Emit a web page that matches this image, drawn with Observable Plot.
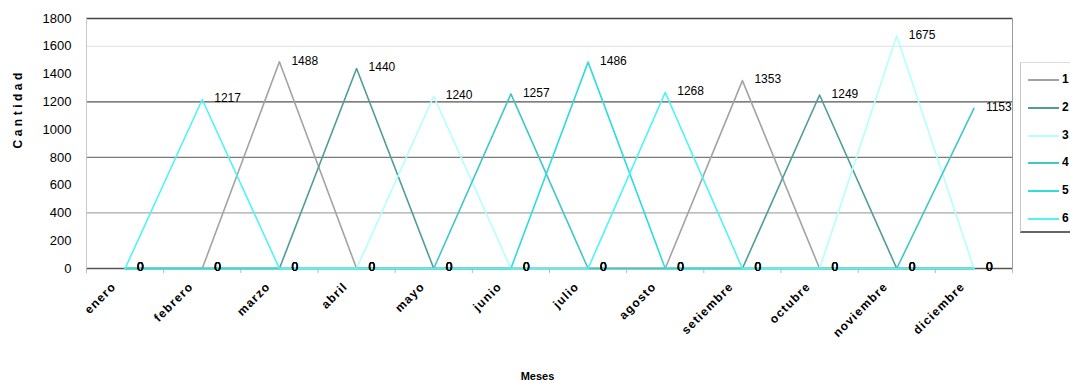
<!DOCTYPE html>
<html><head><meta charset="utf-8">
<script src="https://cdn.jsdelivr.net/npm/d3@7"></script>
<script src="https://cdn.jsdelivr.net/npm/@observablehq/plot@0.6"></script>
<style>
html,body{margin:0;padding:0;background:#fff;overflow:hidden;}
#wrap{position:relative;width:1070px;height:381px;font-family:"Liberation Sans",Arial,sans-serif;}
#wrap svg{display:block;}
#legend{position:absolute;left:1020px;top:62px;width:70px;height:168px;border-left:1px solid #c8c8c8;border-top:1px solid #dcdcdc;border-bottom:2px solid #666;background:#fff;}
.lg{position:absolute;left:0;height:14px;width:70px;}
.lg .sw{position:absolute;left:7px;top:6px;width:31px;height:0;border-top:2px solid #000;}
.lg .tx{position:absolute;left:41px;top:-1px;font:bold 12px "Liberation Sans",Arial,sans-serif;color:#000;}
</style></head><body><div id="wrap"></div><script>
const months = ["enero","febrero","marzo","abril","mayo","junio","julio","agosto","setiembre","octubre","noviembre","diciembre"];
const seriesNames = ["1","2","3","4","5","6"];
const s1 = [0,0,1488,0,0,0,0,0,1353,0,0,0];
const s2 = [0,0,0,1440,0,0,0,0,0,1249,0,0];
const s3 = [0,0,0,0,1240,0,0,0,0,0,1675,0];
const s4 = [0,0,0,0,0,1257,0,0,0,0,0,1153];
const s5 = [0,0,0,0,0,0,1486,0,0,0,0,0];
const s6 = [0,1217,0,0,0,0,0,1268,0,0,0,0];
const seriesValues = [s1,s2,s3,s4,s5,s6];
const yTicks = [0,200,400,600,800,1000,1200,1400,1600,1800];
const gridLevels = [400,800,1200,1600];

const colors = ["#a3a3a3","#509c9c","#b4ffff","#40c8c8","#30dcdc","#50f4f4"];
const gridStroke = {400:"#a8a8a8",800:"#7a7a7a",1200:"#555",1600:"#e6e6e6"};

const rows = seriesNames.flatMap((s,k)=>months.map((m,i)=>({series:s, mi:i+0.5, month:m, value:seriesValues[k][i]})));

const chart = Plot.plot({
  width:1070, height:381,
  marginLeft:86, marginRight:58, marginTop:18, marginBottom:113,
  style:{fontFamily:'"Liberation Sans",Arial,sans-serif', fontSize:"12px", color:"#000", background:"#fff"},
  x:{type:"linear", domain:[0,12], axis:null},
  y:{domain:[0,1800], axis:null},
  color:{domain:seriesNames, range:colors},
  marks:[
    ...gridLevels.map(v=>Plot.ruleY([v],{stroke:gridStroke[v], strokeWidth:1.2})),
    Plot.ruleY([1800],{stroke:"#444", strokeWidth:1.3}),
    Plot.ruleY([0],{stroke:"#555", strokeWidth:1.3}),
    Plot.ruleX([12],{stroke:"#999"}),
    Plot.ruleX([0],{stroke:"#c8c8c8"}),
    Plot.axisX({ticks:d3.range(13), tickFormat:()=>"", tickSize:5, stroke:"#b8b8b8", label:null}),
    Plot.axisY({ticks:yTicks, tickFormat:d=>String(d), tickSize:0, tickPadding:15, fontSize:13, label:null}),
    Plot.axisX({ticks:months.map((m,i)=>i+0.5), tickFormat:v=>months[Math.floor(v)], tickSize:0, tickPadding:16, tickRotate:-45, dx:-11, fontWeight:"bold", fontSize:12, label:null}),
    Plot.line(rows,{x:"mi", y:"value", z:"series", stroke:"series", strokeWidth:1.6}),
    Plot.text(rows,{x:"mi", y:"value", text:d=>String(d.value), dx:12, dy:-1, textAnchor:"start", fill:"#000", fontSize:12}),
    Plot.text(["Cantidad"],{frameAnchor:"left", dx:-68, dy:5, rotate:-90, fontWeight:"bold", fontSize:12}),
    Plot.text(["Meses"],{frameAnchor:"bottom", dy:104, dx:-12, lineAnchor:"top", fontWeight:"bold", fontSize:11})
  ]
});
const wrap = document.getElementById("wrap");
wrap.appendChild(chart);
d3.select(chart).selectAll("text").each(function(){
  const t = this.textContent;
  if (t === "Cantidad") this.style.letterSpacing = "3.5px";
  else if (months.includes(t)) this.style.letterSpacing = "1.2px";
});
const lg = document.createElement("div");
lg.id = "legend";
const centers = [17,45,73,100,128,156];
seriesNames.forEach((s,k)=>{
  const e = document.createElement("div");
  e.className = "lg";
  e.style.top = (centers[k]-7)+"px";
  const sw = document.createElement("div"); sw.className="sw"; sw.style.borderTopColor = colors[k];
  const tx = document.createElement("div"); tx.className="tx"; tx.textContent = s;
  e.appendChild(sw); e.appendChild(tx); lg.appendChild(e);
});
wrap.appendChild(lg);
</script></body></html>
